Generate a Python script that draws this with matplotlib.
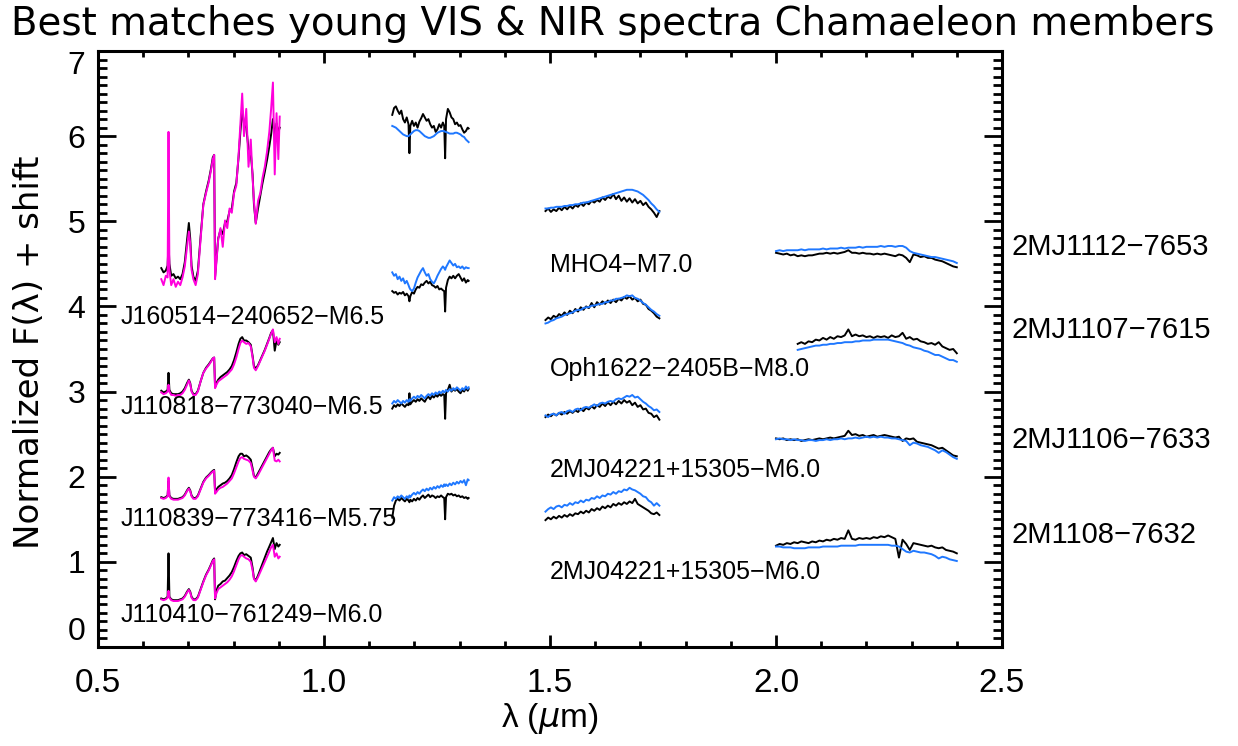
import numpy as np
import matplotlib
matplotlib.use("Agg")
import matplotlib.pyplot as plt
from matplotlib.ticker import MultipleLocator

# wavelength grids (micron)
vis_wave = [0.640, 0.645, 0.650, 0.654, 0.656, 0.658, 0.662, 0.667, 0.672, 0.677,
            0.682, 0.687, 0.692, 0.697, 0.701, 0.704, 0.707, 0.711, 0.716, 0.721,
            0.727, 0.733, 0.739, 0.745, 0.750, 0.754, 0.757, 0.759, 0.762, 0.766,
            0.771, 0.776, 0.781, 0.786, 0.791, 0.796, 0.801, 0.806, 0.811, 0.815,
            0.819, 0.823, 0.828, 0.833, 0.838, 0.842, 0.845, 0.849, 0.854, 0.859,
            0.864, 0.869, 0.874, 0.879, 0.883, 0.887, 0.891, 0.895, 0.899, 0.902]
j_wave = [1.151, 1.155, 1.159, 1.163, 1.167, 1.171, 1.175, 1.179, 1.183, 1.187,
          1.189, 1.191, 1.195, 1.199, 1.203, 1.207, 1.211, 1.215, 1.219, 1.223,
          1.227, 1.231, 1.235, 1.239, 1.243, 1.247, 1.251, 1.255, 1.259, 1.263,
          1.266, 1.268, 1.270, 1.274, 1.278, 1.282, 1.286, 1.290, 1.294, 1.298,
          1.302, 1.306, 1.310, 1.314, 1.318, 1.320]
h_wave = [1.490, 1.496, 1.502, 1.508, 1.514, 1.520, 1.526, 1.532, 1.538, 1.544,
          1.550, 1.556, 1.562, 1.568, 1.574, 1.580, 1.586, 1.592, 1.598, 1.604,
          1.610, 1.616, 1.622, 1.628, 1.634, 1.640, 1.646, 1.652, 1.658, 1.664,
          1.670, 1.676, 1.682, 1.688, 1.694, 1.700, 1.706, 1.712, 1.718, 1.724,
          1.730, 1.736, 1.742]
k_wave = [2.000, 2.008, 2.016, 2.024, 2.032, 2.040, 2.048, 2.056, 2.064, 2.072,
          2.080, 2.088, 2.096, 2.104, 2.112, 2.120, 2.128, 2.136, 2.144, 2.152,
          2.160, 2.168, 2.176, 2.184, 2.192, 2.200, 2.208, 2.216, 2.224, 2.232,
          2.240, 2.248, 2.256, 2.264, 2.272, 2.280, 2.288, 2.296, 2.304, 2.312,
          2.320, 2.328, 2.336, 2.344, 2.352, 2.360, 2.368, 2.376, 2.384, 2.392,
          2.400]

# VIS: object (black) and young template (magenta)
vis1_obj = [4.45, 4.40, 4.42, 4.48, 4.75, 4.50, 4.36, 4.38, 4.33, 4.35,
            4.32, 4.38, 4.52, 4.78, 4.98, 4.80, 4.48, 4.35, 4.30, 4.42,
            4.82, 5.20, 5.35, 5.48, 5.62, 5.75, 5.78, 4.35, 4.55, 4.80,
            4.90, 4.85, 4.98, 5.00, 5.12, 5.15, 5.35, 5.45, 5.75, 6.05,
            6.30, 6.15, 6.10, 5.85, 5.80, 5.55, 5.20, 4.98, 5.15, 5.30,
            5.45, 5.58, 5.72, 5.88, 6.02, 6.20, 6.00, 6.15, 6.05, 6.10]
vis1_tpl = [4.32, 4.25, 4.36, 4.34, 6.05, 4.43, 4.25, 4.32, 4.23, 4.29,
            4.25, 4.34, 4.47, 4.70, 4.88, 4.74, 4.43, 4.32, 4.25, 4.38,
            4.79, 5.19, 5.33, 5.46, 5.60, 5.73, 5.78, 4.32, 4.52, 4.79,
            4.92, 4.70, 5.01, 4.92, 5.15, 5.10, 5.33, 5.42, 5.78, 6.14,
            6.50, 6.00, 6.32, 5.64, 5.96, 5.51, 5.24, 4.97, 5.24, 5.33,
            5.51, 5.64, 5.82, 6.05, 6.32, 6.63, 5.55, 6.27, 5.73, 6.23]
vis2_obj = [3.01, 2.99, 3.00, 3.02, 3.22, 3.02, 2.98, 2.97, 2.97, 2.97,
            2.98, 3.00, 3.04, 3.10, 3.14, 3.10, 3.01, 2.97, 2.97, 3.01,
            3.12, 3.22, 3.28, 3.32, 3.36, 3.39, 3.40, 3.05, 3.10, 3.14,
            3.17, 3.19, 3.21, 3.23, 3.26, 3.30, 3.37, 3.46, 3.56, 3.62,
            3.64, 3.60, 3.60, 3.58, 3.55, 3.42, 3.30, 3.27, 3.31, 3.37,
            3.43, 3.49, 3.56, 3.63, 3.69, 3.72, 3.48, 3.60, 3.55, 3.58]
vis2_tpl = [2.99, 2.97, 2.98, 3.00, 3.08, 3.00, 2.96, 2.96, 2.95, 2.96,
            2.96, 2.98, 3.02, 3.08, 3.13, 3.09, 3.00, 2.96, 2.96, 3.00,
            3.12, 3.22, 3.27, 3.31, 3.35, 3.39, 3.40, 3.04, 3.08, 3.12,
            3.14, 3.16, 3.18, 3.20, 3.23, 3.26, 3.32, 3.40, 3.50, 3.57,
            3.60, 3.58, 3.56, 3.57, 3.53, 3.40, 3.28, 3.25, 3.30, 3.36,
            3.42, 3.48, 3.55, 3.62, 3.68, 3.73, 3.58, 3.64, 3.56, 3.62]
vis3_obj = [1.76, 1.75, 1.76, 1.78, 1.95, 1.78, 1.75, 1.74, 1.74, 1.74,
            1.75, 1.76, 1.79, 1.84, 1.87, 1.84, 1.78, 1.75, 1.75, 1.78,
            1.86, 1.94, 1.99, 2.02, 2.05, 2.07, 2.08, 1.82, 1.85, 1.88,
            1.90, 1.92, 1.93, 1.95, 1.98, 2.02, 2.09, 2.17, 2.24, 2.27,
            2.27, 2.24, 2.25, 2.23, 2.20, 2.10, 2.01, 1.99, 2.04, 2.09,
            2.14, 2.19, 2.24, 2.29, 2.32, 2.34, 2.24, 2.27, 2.26, 2.28]
vis3_tpl = [1.75, 1.74, 1.75, 1.77, 1.99, 1.77, 1.74, 1.73, 1.73, 1.73,
            1.74, 1.75, 1.78, 1.83, 1.86, 1.83, 1.77, 1.74, 1.74, 1.77,
            1.85, 1.93, 1.98, 2.01, 2.04, 2.06, 2.07, 1.80, 1.82, 1.85,
            1.87, 1.88, 1.90, 1.92, 1.95, 1.98, 2.04, 2.11, 2.18, 2.22,
            2.23, 2.21, 2.20, 2.19, 2.16, 2.07, 2.00, 1.98, 2.02, 2.07,
            2.12, 2.17, 2.22, 2.27, 2.31, 2.34, 2.19, 2.18, 2.20, 2.18]
vis4_obj = [0.57, 0.56, 0.57, 0.59, 1.10, 0.59, 0.56, 0.55, 0.55, 0.55,
            0.56, 0.57, 0.60, 0.65, 0.68, 0.65, 0.59, 0.56, 0.56, 0.59,
            0.68, 0.77, 0.85, 0.91, 0.97, 1.02, 1.04, 0.56, 0.66, 0.72,
            0.74, 0.77, 0.78, 0.81, 0.84, 0.88, 0.94, 1.01, 1.07, 1.10,
            1.11, 1.08, 1.09, 1.07, 1.05, 0.93, 0.81, 0.78, 0.84, 0.91,
            0.98, 1.05, 1.12, 1.18, 1.23, 1.28, 1.15, 1.22, 1.18, 1.20]
vis4_tpl = [0.56, 0.55, 0.56, 0.58, 0.66, 0.58, 0.55, 0.54, 0.54, 0.54,
            0.55, 0.56, 0.59, 0.64, 0.67, 0.64, 0.58, 0.55, 0.55, 0.58,
            0.67, 0.76, 0.84, 0.90, 0.96, 1.01, 1.03, 0.57, 0.63, 0.68,
            0.70, 0.72, 0.74, 0.76, 0.79, 0.83, 0.89, 0.96, 1.03, 1.07,
            1.08, 1.06, 1.04, 1.03, 1.00, 0.90, 0.80, 0.77, 0.82, 0.88,
            0.94, 1.00, 1.06, 1.12, 1.17, 1.20, 1.06, 1.10, 1.04, 1.06]

# J band: object (black) and young template (blue)
j1_obj = [6.25, 6.33, 6.35, 6.30, 6.26, 6.30, 6.20, 6.16, 6.22, 6.14,
          5.80, 6.12, 6.18, 6.12, 6.16, 6.10, 6.17, 6.21, 6.26, 6.22,
          6.18, 6.20, 6.14, 6.10, 6.12, 6.05, 6.08, 6.14, 6.10, 6.16,
          6.12, 5.74, 6.20, 6.32, 6.28, 6.22, 6.20, 6.14, 6.16, 6.12,
          6.13, 6.08, 6.04, 6.06, 6.10, 6.09]
j1_tpl = [6.12, 6.11, 6.10, 6.08, 6.06, 6.04, 6.02, 6.01, 6.00, 6.00,
          6.01, 6.02, 6.04, 6.06, 6.07, 6.07, 6.06, 6.04, 6.02, 6.00,
          5.99, 5.98, 5.98, 5.99, 6.00, 6.02, 6.04, 6.05, 6.06, 6.06,
          6.06, 6.05, 6.05, 6.04, 6.03, 6.03, 6.03, 6.04, 6.04, 6.03,
          6.02, 6.00, 5.99, 5.96, 5.94, 5.93]
j2_obj = [4.18, 4.16, 4.17, 4.14, 4.16, 4.15, 4.17, 4.13, 4.15, 4.12,
          4.06, 4.12, 4.17, 4.15, 4.20, 4.23, 4.22, 4.26, 4.25, 4.28,
          4.30, 4.27, 4.29, 4.25, 4.24, 4.22, 4.24, 4.20, 4.21, 4.19,
          4.18, 3.94, 4.22, 4.31, 4.35, 4.33, 4.36, 4.33, 4.36, 4.38,
          4.34, 4.30, 4.33, 4.28, 4.31, 4.30]
j2_tpl = [4.40, 4.36, 4.38, 4.32, 4.35, 4.30, 4.33, 4.27, 4.30, 4.25,
          4.22, 4.20, 4.18, 4.21, 4.28, 4.34, 4.38, 4.42, 4.45, 4.40,
          4.36, 4.38, 4.32, 4.29, 4.27, 4.31, 4.36, 4.40, 4.44, 4.47,
          4.45, 4.43, 4.46, 4.50, 4.54, 4.51, 4.48, 4.50, 4.46, 4.47,
          4.45, 4.47, 4.44, 4.46, 4.45, 4.45]
j3_obj = [2.80, 2.84, 2.82, 2.85, 2.83, 2.86, 2.84, 2.82, 2.85, 2.84,
          2.98, 2.85, 2.88, 2.90, 2.88, 2.91, 2.89, 2.92, 2.90, 2.88,
          2.92, 2.94, 2.91, 2.95, 2.93, 2.96, 2.94, 2.97, 2.95, 2.97,
          2.96, 2.68, 2.98, 3.02, 3.08, 3.00, 3.03, 3.01, 3.03, 3.00,
          2.98, 3.02, 3.00, 3.04, 3.01, 3.03]
j3_tpl = [2.86, 2.89, 2.87, 2.90, 2.88, 2.86, 2.89, 2.87, 2.90, 2.88,
          2.91, 2.89, 2.92, 2.94, 2.92, 2.95, 2.93, 2.96, 2.94, 2.92,
          2.95, 2.97, 2.95, 2.98, 2.96, 2.99, 2.97, 3.00, 2.98, 3.01,
          2.99, 3.00, 3.02, 3.00, 3.03, 3.01, 3.04, 3.02, 3.05, 3.03,
          3.01, 3.04, 3.02, 3.06, 3.03, 3.05]
j4_obj = [1.52, 1.66, 1.72, 1.74, 1.72, 1.75, 1.73, 1.71, 1.74, 1.72,
          1.70, 1.73, 1.71, 1.74, 1.72, 1.75, 1.73, 1.76, 1.78, 1.75,
          1.77, 1.79, 1.76, 1.78, 1.77, 1.75, 1.77, 1.76, 1.78, 1.76,
          1.75, 1.50, 1.76, 1.80, 1.79, 1.80, 1.78, 1.79, 1.77, 1.78,
          1.76, 1.77, 1.75, 1.76, 1.74, 1.75]
j4_tpl = [1.72, 1.76, 1.74, 1.77, 1.75, 1.78, 1.76, 1.74, 1.77, 1.75,
          1.78, 1.76, 1.79, 1.81, 1.79, 1.82, 1.80, 1.83, 1.85, 1.83,
          1.86, 1.84, 1.87, 1.85, 1.88, 1.86, 1.89, 1.87, 1.90, 1.88,
          1.91, 1.89, 1.91, 1.89, 1.92, 1.90, 1.93, 1.91, 1.94, 1.92,
          1.95, 1.93, 1.96, 1.90, 1.97, 1.96]

# H band
h1_obj = [5.12, 5.15, 5.11, 5.14, 5.12, 5.16, 5.13, 5.17, 5.14, 5.18,
          5.15, 5.19, 5.17, 5.21, 5.18, 5.22, 5.20, 5.24, 5.22, 5.25,
          5.23, 5.28, 5.25, 5.29, 5.27, 5.32, 5.26, 5.30, 5.24, 5.28,
          5.23, 5.27, 5.22, 5.26, 5.21, 5.24, 5.19, 5.22, 5.17, 5.14,
          5.10, 5.05, 5.12]
h1_tpl = [5.15, 5.15, 5.16, 5.16, 5.17, 5.17, 5.17, 5.18, 5.18, 5.19,
          5.19, 5.20, 5.20, 5.21, 5.22, 5.22, 5.23, 5.24, 5.25, 5.26,
          5.27, 5.28, 5.29, 5.30, 5.31, 5.32, 5.33, 5.34, 5.35, 5.36,
          5.37, 5.37, 5.37, 5.36, 5.35, 5.33, 5.31, 5.28, 5.25, 5.21,
          5.18, 5.14, 5.11]
h2_obj = [3.84, 3.87, 3.85, 3.89, 3.87, 3.91, 3.89, 3.93, 3.90, 3.95,
          3.92, 3.97, 3.94, 3.99, 3.96, 4.00, 3.98, 4.04, 3.99, 4.05,
          4.02, 4.06, 4.03, 4.07, 4.04, 4.08, 4.05, 4.09, 4.07, 4.11,
          4.09, 4.12, 4.08, 4.10, 4.06, 4.08, 4.03, 4.02, 3.97, 3.95,
          3.92, 3.88, 3.86]
h2_tpl = [3.80, 3.81, 3.83, 3.84, 3.86, 3.87, 3.88, 3.90, 3.91, 3.92,
          3.93, 3.95, 3.96, 3.96, 3.98, 3.99, 3.99, 4.01, 4.01, 4.02,
          4.03, 4.03, 4.05, 4.05, 4.07, 4.07, 4.09, 4.09, 4.10, 4.11,
          4.13, 4.12, 4.13, 4.10, 4.09, 4.07, 4.04, 4.02, 3.99, 3.96,
          3.94, 3.91, 3.89]
h3_obj = [2.70, 2.73, 2.71, 2.74, 2.72, 2.75, 2.73, 2.76, 2.74, 2.77,
          2.75, 2.78, 2.76, 2.80, 2.77, 2.81, 2.79, 2.83, 2.80, 2.84,
          2.82, 2.86, 2.83, 2.87, 2.84, 2.88, 2.85, 2.89, 2.86, 2.90,
          2.87, 2.89, 2.84, 2.87, 2.82, 2.84, 2.79, 2.80, 2.75, 2.74,
          2.70, 2.72, 2.67]
h3_tpl = [2.72, 2.70, 2.73, 2.74, 2.72, 2.75, 2.76, 2.74, 2.77, 2.78,
          2.76, 2.79, 2.80, 2.78, 2.81, 2.82, 2.81, 2.83, 2.85, 2.83,
          2.86, 2.87, 2.86, 2.88, 2.89, 2.88, 2.91, 2.92, 2.91, 2.93,
          2.95, 2.94, 2.96, 2.93, 2.94, 2.91, 2.88, 2.86, 2.83, 2.81,
          2.78, 2.79, 2.76]
h4_obj = [1.49, 1.52, 1.50, 1.53, 1.51, 1.54, 1.52, 1.55, 1.53, 1.56,
          1.54, 1.57, 1.56, 1.59, 1.57, 1.60, 1.58, 1.62, 1.60, 1.63,
          1.61, 1.65, 1.63, 1.66, 1.64, 1.68, 1.66, 1.69, 1.67, 1.70,
          1.68, 1.71, 1.69, 1.74, 1.68, 1.66, 1.64, 1.62, 1.60, 1.57,
          1.56, 1.58, 1.55]
h4_tpl = [1.59, 1.62, 1.64, 1.62, 1.65, 1.66, 1.64, 1.67, 1.66, 1.69,
          1.67, 1.70, 1.69, 1.72, 1.70, 1.73, 1.72, 1.75, 1.74, 1.77,
          1.75, 1.78, 1.77, 1.80, 1.79, 1.82, 1.80, 1.83, 1.82, 1.85,
          1.84, 1.87, 1.85, 1.84, 1.82, 1.80, 1.77, 1.76, 1.72, 1.70,
          1.66, 1.69, 1.66]

# K band (k2 starts at 2.048)
k1_obj = [4.63, 4.62, 4.61, 4.62, 4.60, 4.61, 4.59, 4.60, 4.59, 4.60,
          4.60, 4.61, 4.62, 4.62, 4.63, 4.62, 4.63, 4.62, 4.63, 4.64,
          4.66, 4.63, 4.63, 4.62, 4.63, 4.62, 4.62, 4.61, 4.62, 4.61,
          4.62, 4.61, 4.60, 4.59, 4.61, 4.60, 4.57, 4.52, 4.61, 4.60,
          4.58, 4.59, 4.57, 4.57, 4.55, 4.54, 4.53, 4.51, 4.49, 4.47,
          4.46]
k1_tpl = [4.65, 4.66, 4.65, 4.66, 4.66, 4.66, 4.66, 4.67, 4.66, 4.67,
          4.67, 4.67, 4.67, 4.68, 4.67, 4.68, 4.68, 4.68, 4.69, 4.68,
          4.69, 4.69, 4.69, 4.70, 4.69, 4.70, 4.70, 4.70, 4.70, 4.71,
          4.70, 4.71, 4.71, 4.70, 4.71, 4.71, 4.69, 4.65, 4.63, 4.62,
          4.61, 4.60, 4.59, 4.58, 4.58, 4.57, 4.56, 4.55, 4.54, 4.53,
          4.51]
k2_obj = [3.56, 3.58, 3.56, 3.59, 3.58, 3.61, 3.60, 3.63, 3.61, 3.64,
          3.62, 3.65, 3.64, 3.66, 3.73, 3.65, 3.67, 3.65, 3.66, 3.64,
          3.65, 3.63, 3.65, 3.64, 3.65, 3.63, 3.66, 3.64, 3.65, 3.69,
          3.62, 3.64, 3.61, 3.62, 3.59, 3.58, 3.56, 3.57, 3.55, 3.58,
          3.53, 3.51, 3.49, 3.50, 3.45]
k2_tpl = [3.49, 3.50, 3.51, 3.52, 3.53, 3.54, 3.54, 3.55, 3.55, 3.56,
          3.56, 3.57, 3.57, 3.58, 3.58, 3.58, 3.59, 3.59, 3.60, 3.60,
          3.60, 3.61, 3.61, 3.61, 3.61, 3.61, 3.60, 3.59, 3.58, 3.57,
          3.55, 3.54, 3.52, 3.51, 3.50, 3.48, 3.47, 3.45, 3.43, 3.43,
          3.41, 3.39, 3.37, 3.37, 3.35]
k3_obj = [2.45, 2.44, 2.45, 2.43, 2.44, 2.43, 2.44, 2.42, 2.43, 2.44,
          2.43, 2.44, 2.45, 2.44, 2.45, 2.46, 2.45, 2.46, 2.47, 2.48,
          2.54, 2.49, 2.50, 2.48, 2.49, 2.47, 2.48, 2.49, 2.47, 2.48,
          2.49, 2.48, 2.47, 2.46, 2.47, 2.42, 2.45, 2.44, 2.45, 2.41,
          2.40, 2.39, 2.38, 2.37, 2.35, 2.33, 2.34, 2.31, 2.28, 2.25,
          2.24]
k3_tpl = [2.44, 2.45, 2.44, 2.44, 2.43, 2.44, 2.43, 2.43, 2.42, 2.43,
          2.43, 2.42, 2.43, 2.43, 2.44, 2.43, 2.44, 2.44, 2.45, 2.44,
          2.45, 2.45, 2.46, 2.45, 2.46, 2.47, 2.46, 2.47, 2.46, 2.47,
          2.46, 2.46, 2.45, 2.45, 2.44, 2.43, 2.42, 2.37, 2.40, 2.39,
          2.37, 2.36, 2.35, 2.33, 2.31, 2.28, 2.31, 2.29, 2.26, 2.23,
          2.21]
k4_obj = [1.19, 1.21, 1.20, 1.22, 1.21, 1.23, 1.22, 1.24, 1.23, 1.22,
          1.24, 1.23, 1.25, 1.24, 1.26, 1.25, 1.27, 1.26, 1.28, 1.27,
          1.37, 1.27, 1.26, 1.28, 1.27, 1.28, 1.27, 1.29, 1.28, 1.30,
          1.29, 1.31, 1.29, 1.27, 1.05, 1.26, 1.21, 1.14, 1.22, 1.21,
          1.20, 1.19, 1.18, 1.19, 1.17, 1.16, 1.17, 1.14, 1.13, 1.12,
          1.10]
k4_tpl = [1.18, 1.18, 1.17, 1.17, 1.17, 1.16, 1.16, 1.16, 1.16, 1.17,
          1.17, 1.17, 1.17, 1.18, 1.18, 1.18, 1.18, 1.18, 1.19, 1.19,
          1.19, 1.19, 1.19, 1.20, 1.20, 1.20, 1.20, 1.20, 1.20, 1.20,
          1.20, 1.20, 1.19, 1.19, 1.18, 1.15, 1.12, 1.11, 1.13, 1.12,
          1.11, 1.11, 1.10, 1.09, 1.07, 1.04, 1.06, 1.05, 1.03, 1.02,
          1.01]

vis_names = ["J160514\u2212240652\u2212M6.5", "J110818\u2212773040\u2212M6.5",
             "J110839\u2212773416\u2212M5.75", "J110410\u2212761249\u2212M6.0"]
vis_name_y = [3.88, 2.82, 1.50, 0.37]
h_names = ["MHO4\u2212M7.0", "Oph1622\u22122405B\u2212M8.0",
           "2MJ04221+15305\u2212M6.0", "2MJ04221+15305\u2212M6.0"]
h_name_y = [4.49, 3.27, 2.08, 0.88]
k_names = ["2MJ1112\u22127653", "2MJ1107\u22127615", "2MJ1106\u22127633", "2M1108\u22127632"]
k_name_y = [4.70, 3.72, 2.43, 1.315]

MAG = "#ff00dc"
BLU = "#1f78ff"
lw = 1.4

fig = plt.figure(figsize=(12.38, 7.46), dpi=100)
ax = fig.add_axes([98/1238, 99/746, 904/1238, 596/746])

vis = [(vis1_obj, vis1_tpl), (vis2_obj, vis2_tpl), (vis3_obj, vis3_tpl), (vis4_obj, vis4_tpl)]
for ob, tp in vis:
    ax.plot(vis_wave, ob, color="k", lw=lw)
    ax.plot(vis_wave, tp, color=MAG, lw=lw)

nir = [(j_wave, j1_obj, j1_tpl), (j_wave, j2_obj, j2_tpl), (j_wave, j3_obj, j3_tpl),
       (j_wave, j4_obj, j4_tpl),
       (h_wave, h1_obj, h1_tpl), (h_wave, h2_obj, h2_tpl), (h_wave, h3_obj, h3_tpl),
       (h_wave, h4_obj, h4_tpl),
       (k_wave, k1_obj, k1_tpl), (k_wave[6:], k2_obj, k2_tpl), (k_wave, k3_obj, k3_tpl),
       (k_wave, k4_obj, k4_tpl)]
for w, ob, tp in nir:
    ax.plot(w, ob, color="k", lw=lw)
    ax.plot(w, tp, color=BLU, lw=lw)

lab_font = ["Liberation Sans", "DejaVu Sans"]
for n, yy in zip(vis_names, vis_name_y):
    ax.text(0.549, yy, n, fontsize=18, family=lab_font, va="center", ha="left")
for n, yy in zip(h_names, h_name_y):
    ax.text(1.499, yy, n, fontsize=18, family=lab_font, va="center", ha="left")
for n, yy in zip(k_names, k_name_y):
    ax.text(2.521, yy, n, fontsize=21, family=lab_font, va="center", ha="left", clip_on=False)

ax.set_xlim(0.5, 2.5)
ax.set_ylim(0, 7)
ax.xaxis.set_major_locator(MultipleLocator(0.5))
ax.xaxis.set_minor_locator(MultipleLocator(0.1))
ax.yaxis.set_major_locator(MultipleLocator(1))
ax.yaxis.set_minor_locator(MultipleLocator(0.1))
ax.set_xticks([0.5, 1.0, 1.5, 2.0, 2.5])
ax.set_xticklabels(["0.5", "1.0", "1.5", "2.0", "2.5"])
ax.set_yticks([0, 1, 2, 3, 4, 5, 6, 7])
ax.set_yticklabels(["0", "1", "2", "3", "4", "5", "6", "7"])
ax.tick_params(axis="x", which="major", direction="in", length=8.6, width=2,
               top=True, pad=15, labelsize=24)
ax.tick_params(axis="x", which="minor", direction="in", length=4.3, width=2, top=True)
ax.tick_params(axis="y", which="major", direction="in", length=13, width=2,
               right=True, pad=9, labelsize=23)
ax.tick_params(axis="y", which="minor", direction="in", length=6.5, width=2, right=True)
for t in ax.get_xticklabels() + ax.get_yticklabels():
    t.set_family(lab_font)
ylabs = ax.get_yticklabels()
ylabs[0].set_va("bottom")
ylabs[-1].set_va("top")
for s in ax.spines.values():
    s.set_linewidth(2.2)

title_font = ["DejaVu Sans"]
fig.text(613/1238, 0.968, "Best matches young VIS & NIR spectra Chamaeleon members",
         fontsize=27.9, family=title_font, ha="center", va="center")
fig.text(30/1238, (746-352)/746, "Normalized F(\u03bb) + shift", rotation=90,
         fontsize=24.5, family=title_font, ha="center", va="center")
fig.text(550/1238, (746-718)/746, "\u03bb ($\\mu$m)", fontsize=24, family=lab_font,
         ha="center", va="center")

fig.savefig("out.png", dpi=100)
